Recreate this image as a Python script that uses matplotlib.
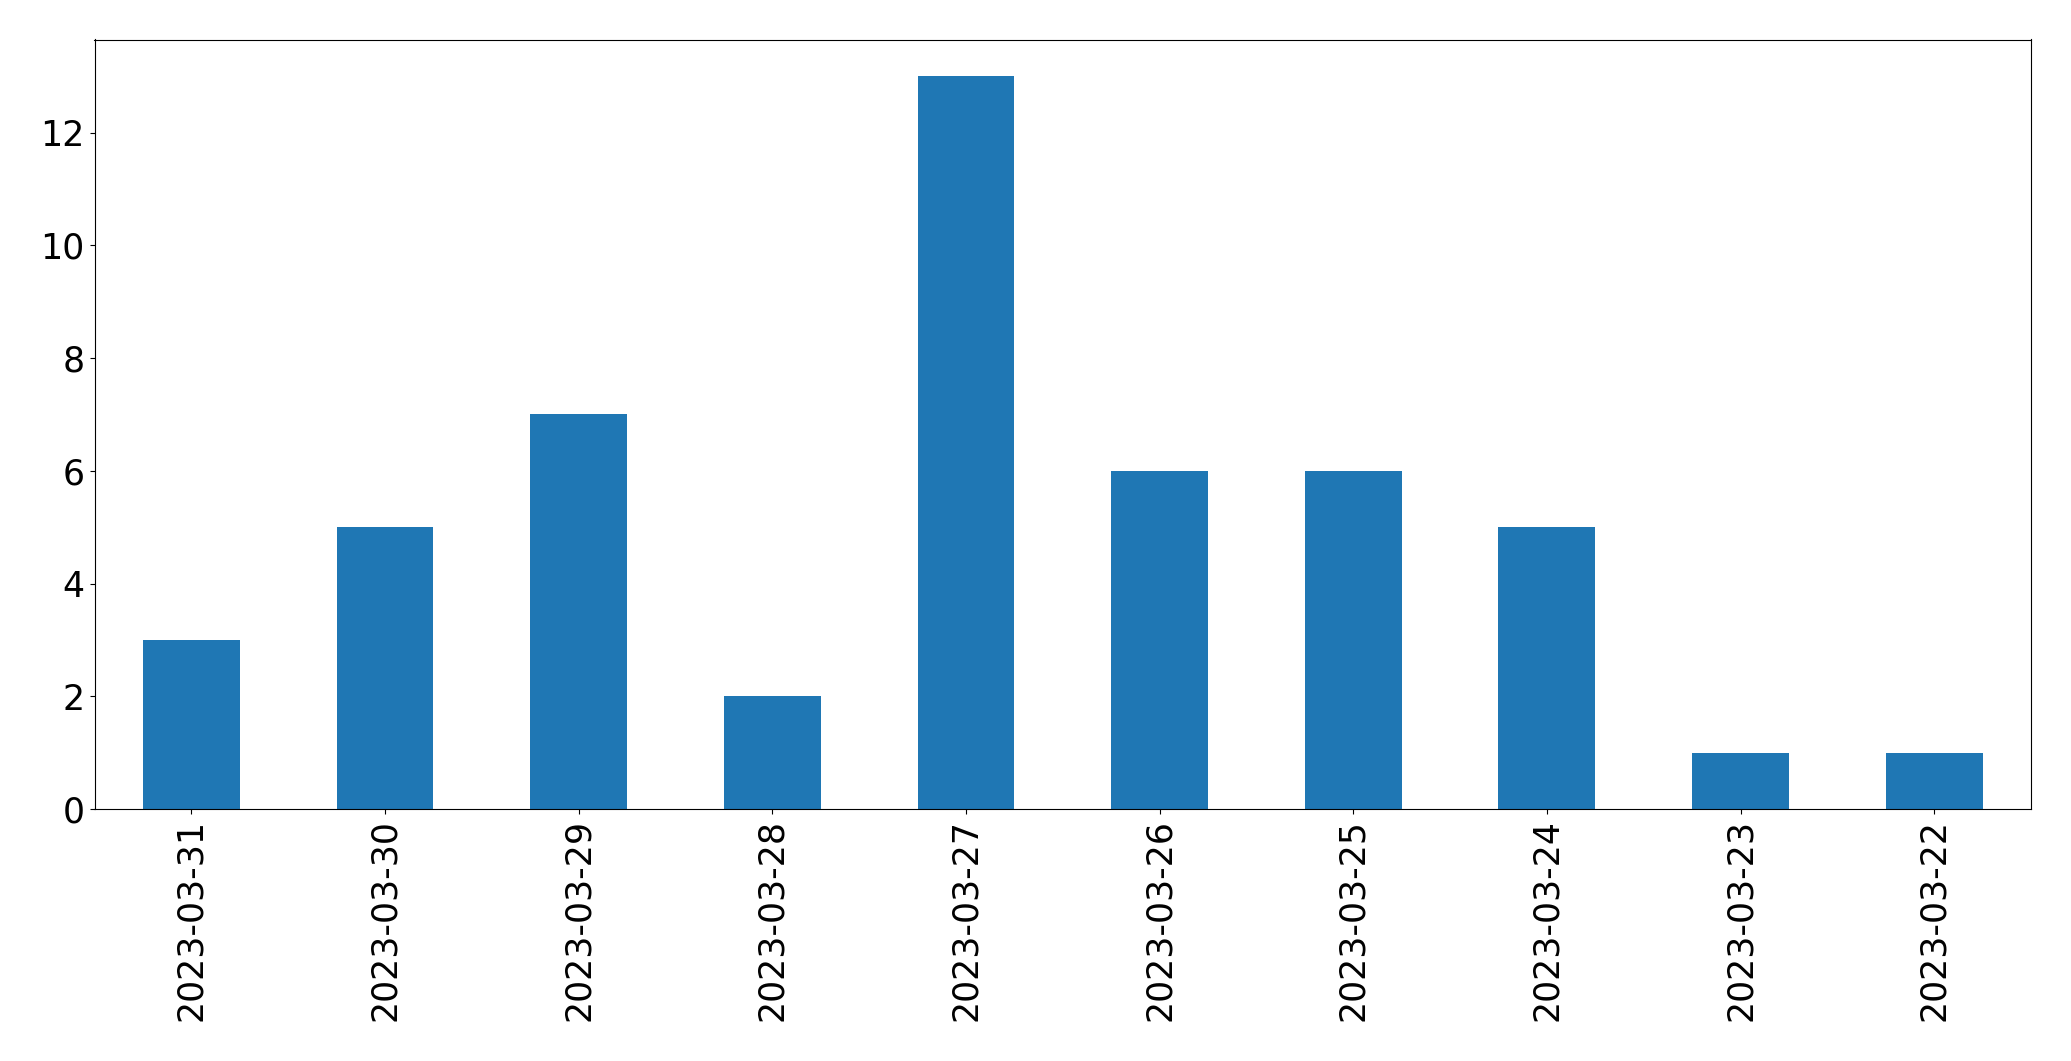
import matplotlib
matplotlib.use("Agg")
import matplotlib.pyplot as plt
import pandas as pd

# dates (as shown, newest first) and counts
dates = ["2023-03-31", "2023-03-30", "2023-03-29", "2023-03-28", "2023-03-27",
         "2023-03-26", "2023-03-25", "2023-03-24", "2023-03-23", "2023-03-22"]
counts = [3, 5, 7, 2, 13, 6, 6, 5, 1, 1]

s = pd.Series(counts, index=dates)

fig, ax = plt.subplots(figsize=(20.71, 10.61), dpi=100)
fig.subplots_adjust(left=94.5 / 2071, right=2031 / 2071, top=1 - 39.5 / 1061, bottom=1 - 809 / 1061)

s.plot(kind="bar", ax=ax, color="#1f77b4", width=0.5)
ax.tick_params(axis="both", labelsize=25)

fig.savefig("out.png", dpi=100)
